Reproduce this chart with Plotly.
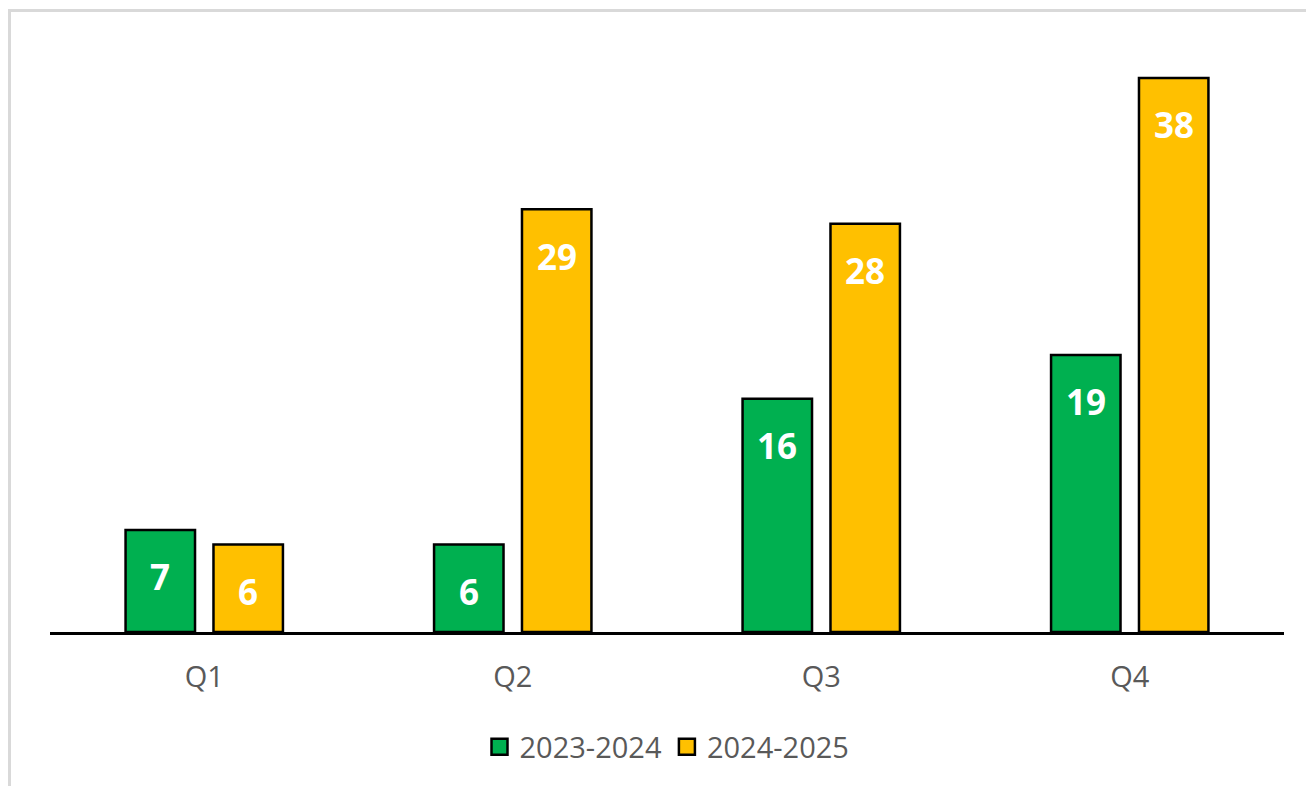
import plotly.graph_objects as go

quarters = ["Q1", "Q2", "Q3", "Q4"]
series_names = ["2023-2024", "2024-2025"]
values_2023_2024 = [7, 6, 16, 19]
values_2024_2025 = [6, 29, 28, 38]
colors = ["#00B050", "#FFC000"]

# page has an 8px body margin, so the figure is placed at (8, 8)
W, H = 1298, 778
ml, mr, mt, mb = 42, 22, 32, 154
pw, ph = W - ml - mr, H - mt - mb
px_per_unit = 14.58

fig = go.Figure()
for name, vals, col in zip(series_names, [values_2023_2024, values_2024_2025], colors):
    fig.add_trace(go.Bar(
        x=quarters, y=vals, name=name, showlegend=False,
        marker=dict(color=col, line=dict(color="black", width=2.5)),
    ))
# legend entries with larger square symbols
for name, col in zip(series_names, colors):
    fig.add_trace(go.Scatter(
        x=[None], y=[None], mode="markers", name=name,
        marker=dict(symbol="square", size=16, color=col,
                    line=dict(color="black", width=2.5)),
    ))

# value labels inside bars
bargap = 0.43
slot = pw / 4 * (1 - bargap) / 2
for i, vals in enumerate([values_2023_2024, values_2024_2025]):
    offset = (i - 0.5) * slot
    for q, v in zip(quarters, vals):
        fig.add_annotation(x=q, y=v, xref="x", yref="y", text=f"<b>{v}</b>",
                           showarrow=False, xshift=offset, yshift=-47,
                           font=dict(color="white", size=35, family="Open Sans"))

# outer border
fig.add_shape(type="rect", xref="paper", yref="paper",
              x0=(1.5 - ml) / pw, x1=(W + 20 - ml) / pw,
              y0=-(mb + 20) / ph, y1=1 + (mt - 2.5) / ph,
              line=dict(color="#D9D9D9", width=3), layer="below")

fig.update_layout(
    width=W, height=H,
    margin=dict(l=ml, r=mr, t=mt, b=mb),
    paper_bgcolor="white", plot_bgcolor="white",
    barmode="group", bargap=bargap, bargroupgap=0.21,
    font=dict(family="Open Sans", color="#595959"),
    xaxis=dict(showline=True, linecolor="black", linewidth=2.5, ticks="",
               ticklabelstandoff=17,
               tickfont=dict(size=29, color="#595959"), showgrid=False),
    yaxis=dict(range=[0, ph / px_per_unit], visible=False, showgrid=False),
    legend=dict(orientation="h", x=0.5, xanchor="center", y=(624 - 739) / ph,
                yanchor="middle", font=dict(size=29, color="#595959"),
                itemwidth=30, traceorder="normal"),
    showlegend=True,
)
fig.write_html("out.html")
